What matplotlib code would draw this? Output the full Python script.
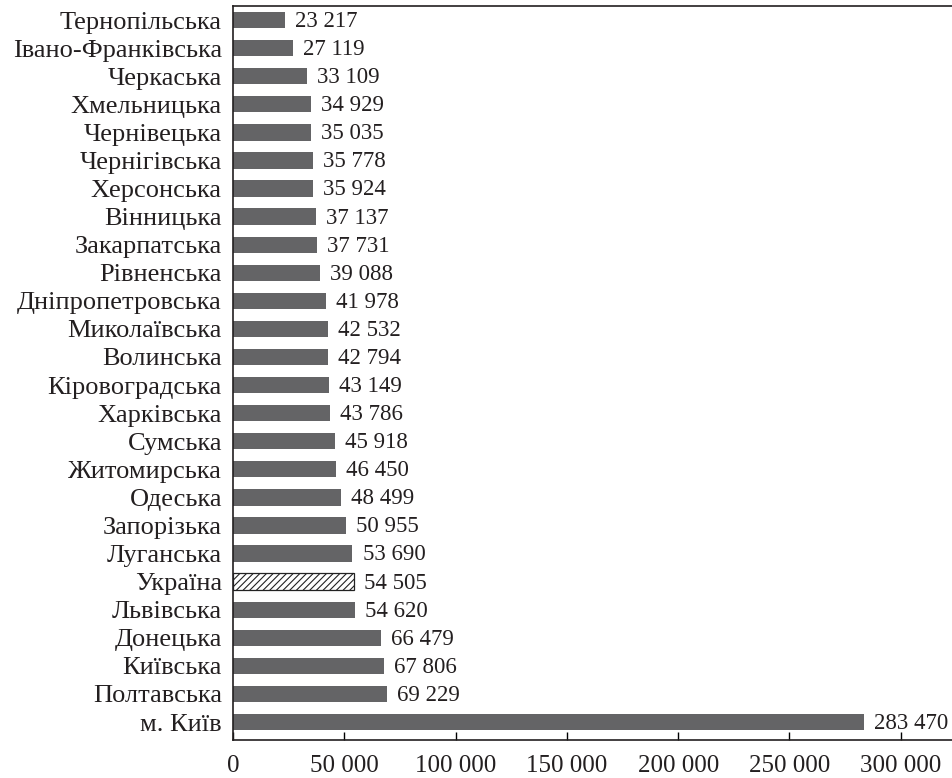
import matplotlib.pyplot as plt
from matplotlib.ticker import FuncFormatter

regions = [
    "м. Київ", "Полтавська", "Київська", "Донецька", "Львівська", "Україна",
    "Луганська", "Запорізька", "Одеська", "Житомирська", "Сумська",
    "Харківська", "Кіровоградська", "Волинська", "Миколаївська",
    "Дніпропетровська", "Рівненська", "Закарпатська", "Вінницька",
    "Херсонська", "Чернігівська", "Чернівецька", "Хмельницька",
    "Черкаська", "Івано-Франківська", "Тернопільська",
]
values = [
    283470, 69229, 67806, 66479, 54620, 54505,
    53690, 50955, 48499, 46450, 45918,
    43786, 43149, 42794, 42532,
    41978, 39088, 37731, 37137,
    35924, 35778, 35035, 34929,
    33109, 27119, 23217,
]
x_ticks = [0, 50000, 100000, 150000, 200000, 250000, 300000]


def spaced(v):
    return f"{int(v):,}".replace(",", " ")


plt.rcParams["font.family"] = ["Liberation Serif", "DejaVu Serif"]
plt.rcParams["hatch.linewidth"] = 0.8

fig = plt.figure(figsize=(9.53, 7.78), dpi=100)
ax = fig.add_axes([233 / 953, 38 / 778, 1 - 233 / 953, 734 / 778])

bar_color = "#646466"
for i, (name, val) in enumerate(zip(regions, values)):
    if name == "Україна":
        ax.barh(i, val, height=0.58, color="white", edgecolor="#222222",
                hatch="/////", linewidth=0.9)
    else:
        ax.barh(i, val, height=0.58, color=bar_color, edgecolor="none")
    ax.text(val + 4500, i - 0.05, spaced(val), va="center", ha="left",
            fontsize=16.5, color="#231f20")

ax.set_yticks(range(len(regions)))
ax.set_yticklabels(regions, fontsize=19, color="#231f20")
ax.tick_params(axis="y", length=0, pad=8)

ax.set_xticks(x_ticks)
ax.xaxis.set_major_formatter(FuncFormatter(lambda v, p: spaced(v)))
ax.tick_params(axis="x", direction="in", length=6, width=1, labelsize=18,
               labelcolor="#231f20", pad=11)

ax.set_xlim(0, 323500)
ax.set_ylim(-0.64, len(regions) - 0.5)

for side in ["left", "bottom", "top"]:
    ax.spines[side].set_linewidth(1.2)
    ax.spines[side].set_color("#231f20")
ax.spines["right"].set_visible(False)

fig.savefig("out.png", dpi=100)
